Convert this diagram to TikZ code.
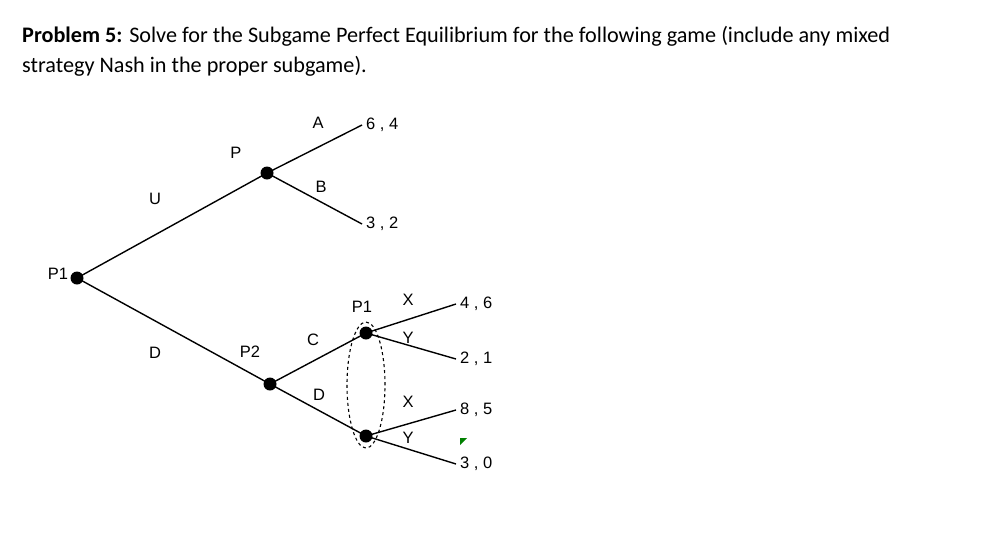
\documentclass[tikz,border=0pt]{standalone}
\usepackage{fontspec}
\usetikzlibrary{shapes.geometric}
\setmainfont{Liberation Sans}
\newfontfamily\calfont{Carlito}
\begin{document}
\begin{tikzpicture}[x=1pt,y=-1pt,
  dot/.style={circle,fill=black,inner sep=0pt,minimum width=13pt,minimum height=11pt},
  lab/.style={font=\fontsize{16.5}{18}\selectfont},
  pay/.style={font=\fontsize{16.5}{18}\selectfont,anchor=west,inner sep=4pt},
  edge/.style={line width=1.4pt}]
\useasboundingbox (0,0) rectangle (996,539);
\node[anchor=west,align=left,inner sep=0pt,font=\calfont\fontsize{22.2}{30}\selectfont] (title) at (22,51)
 {\textbf{Problem 5:} Solve for the Subgame Perfect Equilibrium for the following game (include any mixed\\strategy Nash in the proper subgame).};
\node[dot] (r) at (77,278) {};
\node[dot] (u) at (267,173) {};
\node[dot] (d) at (270,384) {};
\node[dot] (i1) at (366,333) {};
\node[dot] (i2) at (366,436) {};
\coordinate (a) at (362,125);
\coordinate (b) at (362,224);
\coordinate (x1) at (456,304);
\coordinate (y1) at (456,359);
\coordinate (x2) at (456,410);
\coordinate (y2) at (456,464);
\draw[edge] (r.center)--(u.center) (r.center)--(d.center)
 (u.center)--(a) (u.center)--(b) (d.center)--(i1.center) (d.center)--(i2.center)
 (i1.center)--(x1) (i1.center)--(y1) (i2.center)--(x2) (i2.center)--(y2);
\node[draw,dashed,line width=1.1pt,ellipse,minimum width=38pt,minimum height=126pt,inner sep=0pt] (set) at (366,385) {};
\node[lab] (lp1) at (58,274) {P1};
\node[lab] (lu) at (155,199) {U};
\node[lab] (ld) at (155,353) {D};
\node[lab] (lp) at (236,153) {P};
\node[lab] (lp2) at (250,352) {P2};
\node[lab] (la) at (318,123) {A};
\node[lab] (lb) at (321,187) {B};
\node[lab] (lc) at (313,340) {C};
\node[lab] (ld2) at (319,395) {D};
\node[lab] (lp1b) at (362,307) {P1};
\node[lab] (lx1) at (408,300) {X};
\node[lab] (ly1) at (408,338) {Y};
\node[lab] (lx2) at (408,402) {X};
\node[lab] (ly2) at (408,438) {Y};
\node[pay] at (a) {6 , 4};
\node[pay] at (b) {3 , 2};
\node[pay] at (x1) {4 , 6};
\node[pay] at (y1) {2 , 1};
\node[pay] at (x2) {8 , 5};
\node[pay] at (y2) {3 , 0};
\fill[green!50!black] (460,438)--(467,438)--(460,445)--cycle;
\end{tikzpicture}
\end{document}
